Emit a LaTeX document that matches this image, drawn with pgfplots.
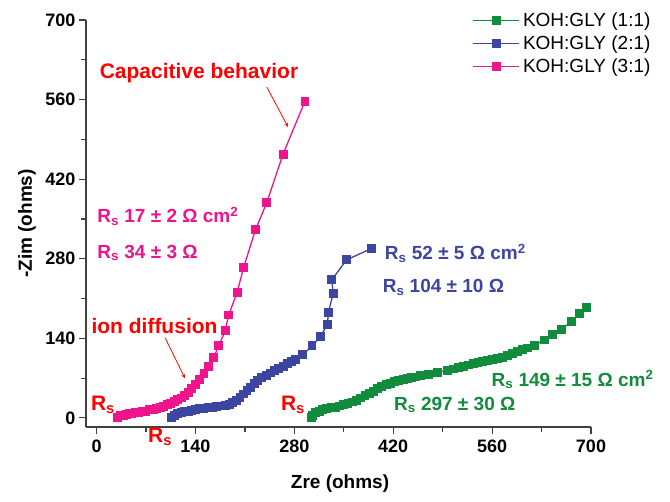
\documentclass[border=0pt]{standalone}
\usepackage{pgfplots}
\pgfplotsset{compat=1.18}
\usepackage{fontspec}
\setmainfont{Liberation Sans}
\definecolor{cgreen}{RGB}{16,140,60}
\definecolor{cblue}{RGB}{60,70,160}
\definecolor{cpink}{RGB}{238,20,140}
\definecolor{cred}{RGB}{255,0,0}
\newcommand{\Rs}{R\textsubscript{s}}
\begin{document}
\begin{tikzpicture}
\begin{axis}[
  scale only axis,
  width=505pt, height=407pt,
  xmin=-15, xmax=700, ymin=-16, ymax=700,
  axis x line*=bottom, axis y line*=left,
  axis line style={black!75, line width=1.3pt},
  xtick={0,140,280,420,560,700}, ytick={0,140,280,420,560,700},
  minor xtick={70,210,350,490,630}, minor ytick={70,210,350,490,630},
  tick align=outside,
  major tick length=7pt, minor tick length=5pt,
  every tick/.style={black!75, line width=1.2pt},
  /pgf/number format/assume math mode=true,
  tick label style={font=\fontsize{18}{20}\selectfont\bfseries},
  xticklabel style={yshift=-2pt},
  label style={font=\fontsize{19}{22}\selectfont\bfseries},
  xlabel={Zre (ohms)}, ylabel={-Zim (ohms)},
  xlabel style={at={(axis description cs:0.503,-0.138)}, anchor=center},
  ylabel style={at={(axis description cs:-0.117,0.5)}, anchor=center},
  clip=false,
  legend style={draw=none, fill=none, at={(1.126,1.025)}, anchor=north east,
    font=\fontsize{19}{22}\selectfont, row sep=3.5pt, inner sep=1pt,
    nodes={inner xsep=3pt}},
  legend cell align=left,
  legend image code/.code={\draw[line width=1.1pt, mark repeat=2,mark phase=2] plot coordinates {(-3pt,0pt)(20pt,0pt)(43pt,0pt)};},
]
\addplot[cgreen, line width=1.3pt, mark=square*, mark size=3.8pt, mark options={solid}] coordinates {
(304,1)(306,5)(310,9)(315,12)(320,14)(326,16)(332,18)(338,19)(344,21)(350,23)(356,25)(362,28)(368,31)(374,35)(380,39)(386,43)(392,47)(398,51)(404,55)(410,58)(416,61)(422,64)(428,66)(434,68)(440,70)(446,71)(452,72)(458,74)(470,76)(483,80)(497,84)(505,86)(512,89)(519,91)(526,93)(533,95)(540,97)(547,99)(554,101)(561,103)(568,105)(575,107)(582,110)(589,113)(596,117)(603,120)(610,123)(620,128)(634,137)(646,146)(658,156)(672,169)(684,184)(693,195)};
\addlegendentry{KOH:GLY (1:1)}
\addplot[cblue, line width=1.3pt, mark=square*, mark size=3.8pt, mark options={solid}] coordinates {
(106,1)(110,4)(115,7)(120,10)(125,11)(130,12)(135,13)(140,14)(146,16)(152,17)(158,18)(164,19)(170,20)(176,21)(182,22)(188,24)(193,27)(198,31)(203,36)(208,42)(213,48)(218,54)(223,60)(228,66)(234,71)(240,75)(246,79)(252,83)(258,87)(264,91)(270,95)(276,99)(282,103)(292,111)(305,127)(317,143)(327,165)(328,185)(335,219)(333,243)(354,278)(389,298)};
\addlegendentry{KOH:GLY (2:1)}
\addplot[cpink, line width=1.3pt, mark=square*, mark size=3.8pt, mark options={solid}] coordinates {
(30,1)(34,4)(38,5)(42,6)(46,7)(50,8)(55,9)(60,10)(65,11)(70,12)(75,14)(80,15)(85,16)(90,18)(95,20)(100,23)(105,26)(110,29)(115,32)(120,35)(125,40)(130,45)(135,51)(140,58)(146,67)(152,78)(158,90)(166,107)(173,127)(182,153)(187,181)(199,221)(208,264)(225,331)(241,379)(264,464)(295,557)};
\addlegendentry{KOH:GLY (3:1)}
\coordinate (O) at (rel axis cs:0,0);
% annotations
\node[cred, font=\fontsize{21}{24}\selectfont\bfseries] at (axis cs:145,607) {Capacitive behavior};
\draw[cred, line width=0.8pt, -stealth] (axis cs:241,582) -- (axis cs:271,512);
\node[cred, font=\fontsize{21}{24}\selectfont\bfseries] at (axis cs:82,162) {ion diffusion};
\draw[cred, line width=0.8pt, -stealth] (axis cs:97,141) -- (axis cs:125,70);
\node[cred, font=\fontsize{21}{24}\selectfont\bfseries] at (axis cs:9,23) {\Rs};
\node[cred, font=\fontsize{21}{24}\selectfont\bfseries] at (axis cs:90,-33) {\Rs};
\node[cred, font=\fontsize{21}{24}\selectfont\bfseries] at (axis cs:278,23) {\Rs};
\node[cpink, anchor=west, inner sep=0pt, font=\fontsize{19}{22}\selectfont\bfseries] at (axis cs:1,355) {\Rs\ 17 ± 2 Ω cm\textsuperscript{2}};
\node[cpink, anchor=west, inner sep=0pt, font=\fontsize{19}{22}\selectfont\bfseries] at (axis cs:1,290) {\Rs\ 34 ± 3 Ω};
\node[cblue, anchor=west, inner sep=0pt, font=\fontsize{19}{22}\selectfont\bfseries] at (axis cs:408,290) {\Rs\ 52 ± 5 Ω cm\textsuperscript{2}};
\node[cblue, anchor=west, inner sep=0pt, font=\fontsize{19}{22}\selectfont\bfseries] at (axis cs:405,229) {\Rs\ 104 ± 10 Ω};
\node[cgreen, anchor=west, inner sep=0pt, font=\fontsize{19}{22}\selectfont\bfseries] at (axis cs:559,67) {\Rs\ 149 ± 15 Ω cm\textsuperscript{2}};
\node[cgreen, anchor=west, inner sep=0pt, font=\fontsize{19}{22}\selectfont\bfseries] at (axis cs:421,23) {\Rs\ 297 ± 30 Ω};
\end{axis}
\path (O) ++(-86pt,-75pt) rectangle ++(670pt,502pt);
\end{tikzpicture}
\end{document}
